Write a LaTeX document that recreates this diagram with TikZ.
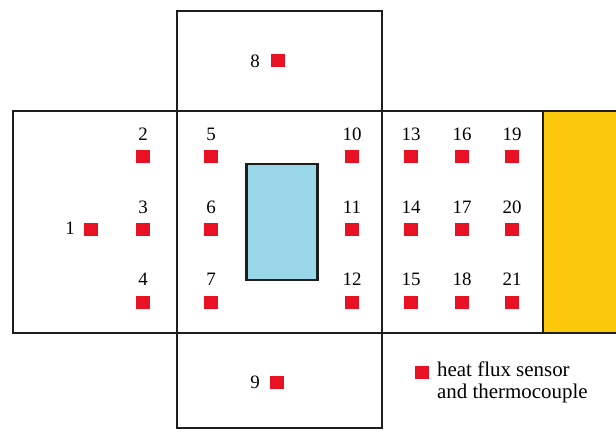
\documentclass[tikz,border=0pt]{standalone}
\usepackage{fontspec}
\setmainfont{Liberation Serif}
\definecolor{sred}{RGB}{232,18,36}
\definecolor{sblue}{RGB}{152,216,232}
\definecolor{syellow}{RGB}{252,200,12}
\definecolor{sline}{RGB}{30,30,30}
\tikzset{
  wall/.style={draw=sline, line width=2.8bp},
  sensor/.style={fill=sred, minimum width=14bp, minimum height=13bp, inner sep=0, draw=none},
  num/.style={font=\fontsize{19}{22}\selectfont, inner sep=0},
  legtxt/.style={font=\fontsize{21}{21.5}\selectfont, inner sep=0},
}
\begin{document}
\begin{tikzpicture}[x=1bp,y=-1bp]
\useasboundingbox (0,0) rectangle (616,433);
\fill[syellow] (543,111) rectangle (616,333);
\draw[wall] (177,11) rectangle (382,111);
\draw[wall] (177,333) rectangle (382,428);
\draw[wall] (616,111) -- (13,111) -- (13,333) -- (616,333);
\draw[wall] (177,111) -- (177,333);
\draw[wall] (382,111) -- (382,333);
\draw[wall] (543,111) -- (543,333);
\draw[wall, fill=sblue] (246.5,164) rectangle (317.5,280);
% sensors
\node[sensor] (s1) at (91,230) {};
\node[num] (l1) at (70,228.5) {1};
\foreach \n/\x/\y in {2/143/157, 3/143/230, 4/143/302,
  5/211/157, 6/211/230, 7/211/302,
  10/352/157, 11/352/230, 12/352/302,
  13/411/157, 14/411/230, 15/411/302,
  16/462/157, 17/462/230, 18/462/302,
  19/512/157, 20/512/230, 21/512/302} {
  \node[sensor] (s\n) at (\x,\y) {};
  \node[num] (l\n) at ([yshift=23bp]s\n.center) {\n};
}
\node[sensor] (s8) at (278,61) {};
\node[num] (l8) at (255,61) {8};
\node[sensor] (s9) at (277,382) {};
\node[num] (l9) at (255,382) {9};
% legend
\node[sensor] (leg) at (422,372) {};
\node[legtxt, anchor=west, align=left] (legtext) at (437,382.5) {heat flux sensor\\and thermocouple};
\end{tikzpicture}
\end{document}
